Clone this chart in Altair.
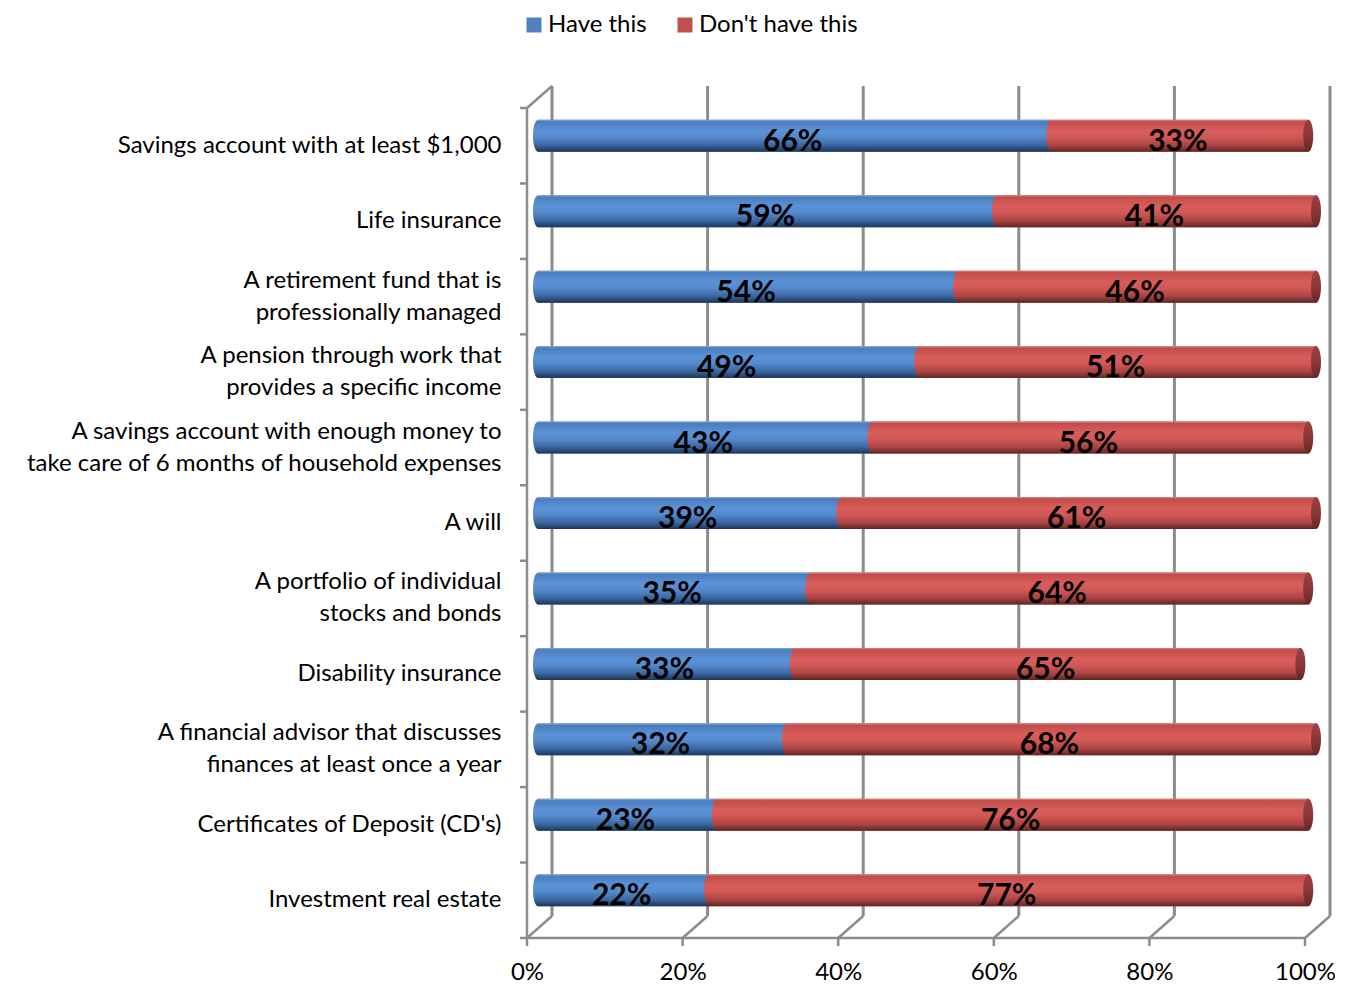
import altair as alt
import pandas as pd

categories = [
    "Savings account with at least $1,000",
    "Life insurance",
    "A retirement fund that is|professionally managed",
    "A pension through work that|provides a specific income",
    "A savings account with enough money to|take care of 6 months of household expenses",
    "A will",
    "A portfolio of individual|stocks and bonds",
    "Disability insurance",
    "A financial advisor that discusses|finances at least once a year",
    "Certificates of Deposit (CD's)",
    "Investment real estate",
]
have = [66, 59, 54, 49, 43, 39, 35, 33, 32, 23, 22]
dont = [33, 41, 46, 51, 56, 61, 64, 65, 68, 76, 77]
x_ticks = [0, 0.2, 0.4, 0.6, 0.8, 1.0]
series = ["Have this", "Don't have this"]
series_colors = ["#4F81BD", "#C0504D"]

df = pd.DataFrame({"cat": categories, "have": have, "dont": dont})
ticks_df = pd.DataFrame({"v": x_ticks})
one = pd.DataFrame({"a": [0]})

W, H = 778, 830
DX, DY = 11, -10
BX, BY = 25, -22
GRAY = "#8C8C8C"
FONT = "Lato"
FS = 24
BAR = 32
ELL = "M0,-1A0.3125,1,0,1,1,0,1A0.3125,1,0,1,1,0,-1Z"

blue_grad = {"gradient": "linear", "x1": 0, "y1": 0, "x2": 0, "y2": 1,
             "stops": [{"offset": 0, "color": "#8FACD6"},
                       {"offset": 0.06, "color": "#4A7CC0"},
                       {"offset": 0.35, "color": "#5B93D6"},
                       {"offset": 0.55, "color": "#5589CB"},
                       {"offset": 0.8, "color": "#3A66A0"},
                       {"offset": 1, "color": "#1E3556"}]}
red_grad = {"gradient": "linear", "x1": 0, "y1": 0, "x2": 0, "y2": 1,
            "stops": [{"offset": 0, "color": "#D88A88"},
                      {"offset": 0.06, "color": "#C24C4A"},
                      {"offset": 0.35, "color": "#D85D5B"},
                      {"offset": 0.55, "color": "#D25856"},
                      {"offset": 0.8, "color": "#A94442"},
                      {"offset": 1, "color": "#602524"}]}
cap_grad = {"gradient": "linear", "x1": 0, "y1": 0, "x2": 0, "y2": 1,
            "stops": [{"offset": 0, "color": "#9A4140"},
                      {"offset": 0.5, "color": "#8A3837"},
                      {"offset": 1, "color": "#652827"}]}

xscale = alt.Scale(domain=[0, 1], nice=False, zero=True)
xaxis = alt.Axis(title=None, format=".0%", values=x_ticks, ticks=False, domain=False,
                 grid=False, labelFont=FONT, labelFontSize=FS, labelColor="#000",
                 labelPadding=22, labelFlush=False, labelAlign="center")
yaxis = alt.Axis(title=None, labelExpr="split(datum.label, '|')", ticks=False, domain=False,
                 grid=False, labelFont=FONT, labelFontSize=FS, labelColor="#000",
                 labelPadding=26, labelLineHeight=32, labelLimit=600,
                 labelAlign="right", labelBaseline="middle",
                 labelOffset={"condition": {"test": "indexof(datum.value, '|') >= 0",
                                            "value": -16}, "value": 0})
yscale = alt.Scale(paddingInner=0, paddingOuter=0)


def X(f):
    return alt.X(f, type="quantitative", scale=xscale, axis=xaxis)


def Y(**kw):
    return alt.Y("cat:N", sort=categories, scale=yscale, axis=yaxis, **kw)


calc = dict(zero="0", h1="datum.have/100", d1="(datum.have+datum.dont)/100",
            hmid="datum.have/200", dmid="(datum.have+datum.dont/2)/100",
            hl="datum.have + '%'", dl="datum.dont + '%'")
base = alt.Chart(df).transform_calculate(**calc)

grid = alt.Chart(ticks_df).mark_rule(color=GRAY, strokeWidth=3, xOffset=BX).encode(
    x=X("v"), y=alt.value(BY), y2=alt.value(H + BY))
floor = alt.Chart(ticks_df).mark_rule(color=GRAY, strokeWidth=2.5, x2Offset=BX).encode(
    x=X("v"), x2=alt.X2("v"), y=alt.value(H), y2=alt.value(H + BY))
bticks = alt.Chart(ticks_df).mark_rule(color=GRAY, strokeWidth=2.5).encode(
    x=X("v"), y=alt.value(H), y2=alt.value(H + 8))
topdiag = alt.Chart(one).mark_rule(color=GRAY, strokeWidth=2.5).encode(
    x=alt.value(0), x2=alt.value(BX), y=alt.value(0), y2=alt.value(BY))
leftline = alt.Chart(one).mark_rule(color=GRAY, strokeWidth=2.5).encode(
    x=alt.value(0), y=alt.value(0), y2=alt.value(H))
bottomline = alt.Chart(one).mark_rule(color=GRAY, strokeWidth=2.5).encode(
    x=alt.value(0), x2=alt.value(W), y=alt.value(H))
lticks = alt.Chart(df).mark_rule(color=GRAY, strokeWidth=2.5).encode(
    x=alt.value(-7), x2=alt.value(0), y=Y(bandPosition=0))
lbottick = alt.Chart(one).mark_rule(color=GRAY, strokeWidth=2.5).encode(
    x=alt.value(-7), x2=alt.value(0), y=alt.value(H))

legend_bars = (
    alt.Chart(df)
    .transform_fold(["have", "dont"], as_=["key", "val"])
    .transform_calculate(
        start="datum.key == 'have' ? 0 : datum.have/100",
        end="datum.key == 'have' ? datum.have/100 : (datum.have+datum.dont)/100",
        series="datum.key == 'have' ? 'Have this' : \"Don't have this\"",
    )
    .mark_bar(size=BAR, xOffset=DX, x2Offset=DX, yOffset=DY, y2Offset=DY)
    .encode(
        x=X("start"), x2=alt.X2("end"), y=Y(),
        color=alt.Color("series:N", scale=alt.Scale(domain=series, range=series_colors),
                        legend=alt.Legend(title=None, orient="none", direction="horizontal",
                                          legendX=-5, legendY=-95, symbolType="square",
                                          symbolSize=225, symbolStrokeWidth=0,
                                          labelFont=FONT, labelFontSize=FS,
                                          labelColor="#000", labelOffset=2,
                                          columnPadding=26, labelLimit=400)),
    )
)

blue_bar = base.mark_bar(size=BAR, color=blue_grad, xOffset=DX, x2Offset=DX,
                         yOffset=DY, y2Offset=DY).encode(x=X("zero"), x2=alt.X2("h1"), y=Y())
blue_cap = base.mark_point(shape=ELL, size=BAR * BAR, filled=True, fill=blue_grad,
                           strokeWidth=0, opacity=1, xOffset=DX, yOffset=DY).encode(
    x=X("zero"), y=Y())
red_bar = base.mark_bar(size=BAR, color=red_grad, xOffset=DX, x2Offset=DX,
                        yOffset=DY, y2Offset=DY).encode(x=X("h1"), x2=alt.X2("d1"), y=Y())
red_cap = base.mark_point(shape=ELL, size=BAR * BAR, filled=True, fill=red_grad,
                          strokeWidth=0, opacity=1, xOffset=DX, yOffset=DY).encode(
    x=X("h1"), y=Y())
end_cap = base.mark_point(shape=ELL, size=BAR * BAR, filled=True, fill=cap_grad,
                          strokeWidth=0, opacity=1, xOffset=DX, yOffset=DY).encode(
    x=X("d1"), y=Y())

txt_kw = dict(font=FONT, fontWeight="bold", fontSize=30, color="#000", dx=DX - 2, dy=-4,
              align="center", baseline="middle")
blue_txt = base.mark_text(**txt_kw).encode(x=X("hmid"), y=Y(), text="hl:N")
red_txt = base.mark_text(**txt_kw).encode(x=X("dmid"), y=Y(), text="dl:N")

chart = alt.layer(
    grid, floor, bticks, topdiag, leftline, bottomline, lticks, lbottick,
    legend_bars, blue_bar, blue_cap, red_bar, red_cap, end_cap, blue_txt, red_txt,
).properties(
    width=W, height=H,
    autosize=alt.AutoSizeParams(type="none"),
    padding={"left": 519, "top": 100, "right": 30, "bottom": 46},
).configure_view(strokeWidth=0, strokeOpacity=0)

chart.save("out.html", embed_options={"renderer": "svg", "actions": False})
